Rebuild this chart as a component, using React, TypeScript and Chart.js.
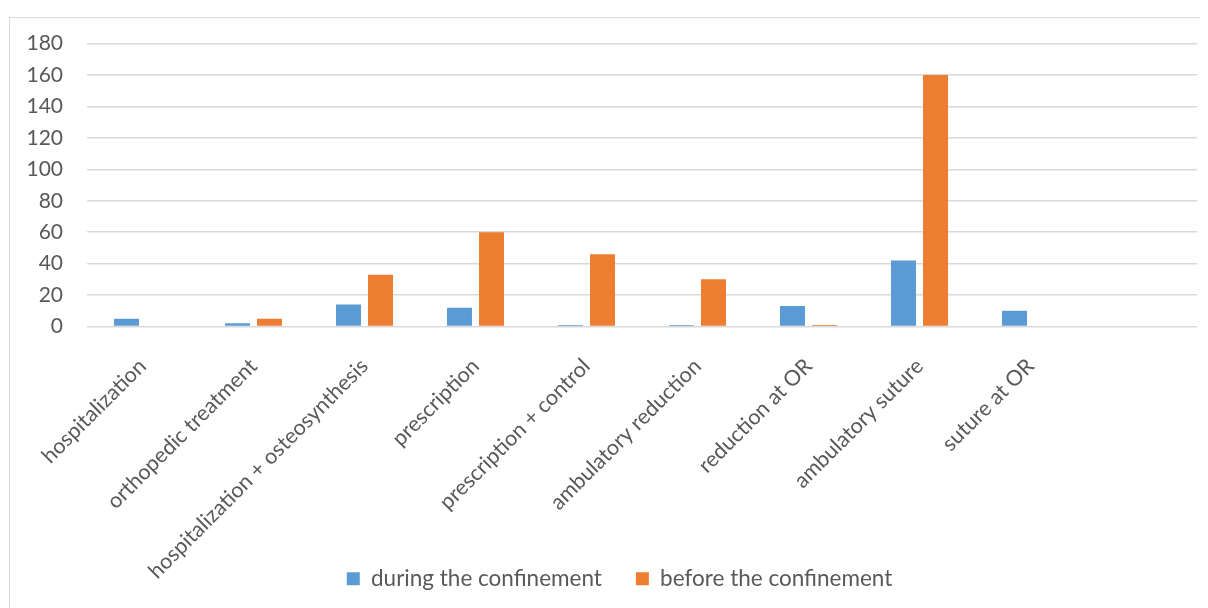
import React, { useEffect, useRef } from "react";
import { Chart, registerables } from "chart.js";

Chart.register(...registerables);

const categories = [
  "hospitalization",
  "orthopedic treatment",
  "hospitalization + osteosynthesis",
  "prescription",
  "prescription + control",
  "ambulatory reduction",
  "reduction at OR",
  "ambulatory suture",
  "suture at OR",
  "",
];
const duringConfinement = [5, 2, 14, 12, 1, 1, 13, 42, 10, null];
const beforeConfinement = [0, 5, 33, 60, 46, 30, 1, 160, 0, null];
const yTicks = [0, 20, 40, 60, 80, 100, 120, 140, 160, 180];

const FONT = "Lato, 'Open Sans', sans-serif";
const TEXT = "#595959";

const legendShift = {
  id: "legendShift",
  afterLayout(chart: any) {
    const l = chart.legend;
    if (!l) return;
    const dy = 55;
    const dx = 16;
    l.top -= dy;
    l.bottom -= dy;
    l.left += dx;
    l.right += dx;
  },
};

export default function App() {
  const ref = useRef<HTMLCanvasElement>(null);
  useEffect(() => {
    if (!ref.current) return;
    const chart = new Chart(ref.current, {
      type: "bar",
      data: {
        labels: categories,
        datasets: [
          {
            label: "during the confinement",
            data: duringConfinement,
            backgroundColor: "#5b9bd5",
            barPercentage: 0.78,
            categoryPercentage: 0.577,
          },
          {
            label: "before the confinement",
            data: beforeConfinement,
            backgroundColor: "#ed7d31",
            barPercentage: 0.78,
            categoryPercentage: 0.577,
          },
        ],
      },
      plugins: [legendShift],
      options: {
        animation: false,
        responsive: false,
        layout: { padding: { left: 0, right: 11, top: 0, bottom: 0 } },
        plugins: {
          tooltip: { enabled: false },
          legend: {
            position: "bottom",
            labels: {
              boxWidth: 13,
              boxHeight: 13,
              padding: 34,
              color: TEXT,
              font: { family: FONT, size: 22.5 },
            },
          },
        },
        scales: {
          x: {
            grid: { display: false, drawTicks: false },
            border: { display: false },
            afterFit: (s: any) => {
              s.height = 262;
            },
            ticks: {
              minRotation: 45,
              maxRotation: 45,
              color: TEXT,
              padding: 27,
              autoSkip: false,
              font: { family: FONT, size: 21.5 },
            },
          },
          y: {
            min: 0,
            max: 180,
            afterFit: (s: any) => {
              s.width = 77;
            },
            afterBuildTicks: (s: any) => {
              s.ticks = yTicks.map((v) => ({ value: v }));
            },
            grid: { color: "#d9d9d9", lineWidth: 1.5, drawTicks: false },
            border: { display: false },
            ticks: {
              stepSize: 20,
              color: TEXT,
              padding: 24,
              font: { family: FONT, size: 21 },
            },
          },
        },
      },
    });
    return () => chart.destroy();
  }, []);
  return (
    <div
      style={{
        position: "relative",
        marginTop: 9,
        marginLeft: 1,
        width: 1210,
        height: 600,
        border: "1px solid #d9d9d9",
        boxSizing: "border-box",
        background: "#fff",
      }}
    >
      <canvas
        ref={ref}
        width={1198}
        height={648}
        style={{ display: "block", position: "absolute", left: 0, top: -11 }}
      />
    </div>
  );
}
